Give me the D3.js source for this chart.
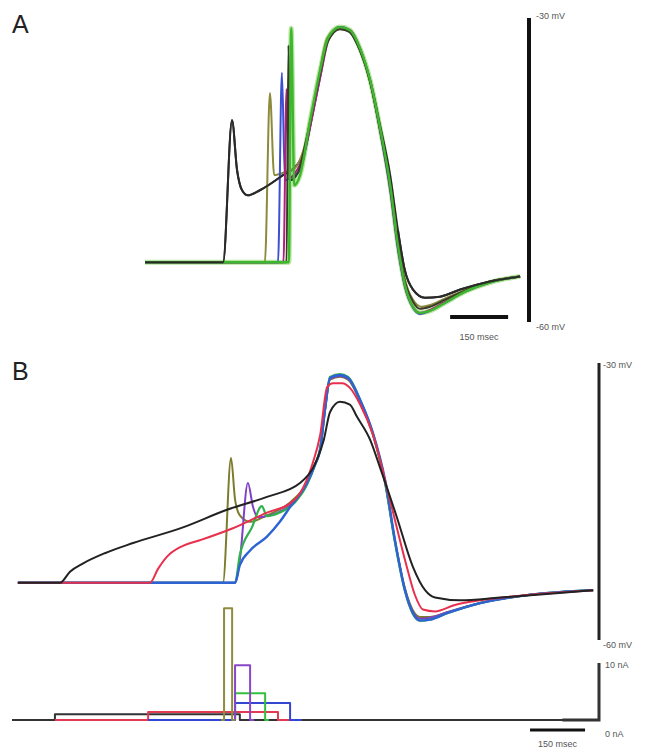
<!DOCTYPE html>
<html>
<head>
<meta charset="utf-8">
<script src="https://cdn.jsdelivr.net/npm/d3@7"></script>
<style>
  body { margin: 0; background: #fff; }
  text { font-family: "Liberation Sans", Arial, sans-serif; }
</style>
</head>
<body>
<script>
// Panel A voltage traces: [time ms, membrane potential mV]
var blackA = [[0,-54.1],[202,-54.1],[225,-40.1],[238,-45.0],[251,-47.0],[266,-47.5],[297,-47.0],[357,-45.5],[393,-44.5],[414,-43.0],[440,-38.1],[471,-32.2],[491,-31.2],[509,-31.0],[530,-31.4],[556,-33.2],[582,-36.1],[608,-40.6],[634,-45.5],[654,-50.9],[672,-54.9],[693,-56.8],[724,-57.6],[763,-57.5],[815,-56.8],[892,-56.0],[970,-55.5]];
var oliveA = [[0,-54.1],[310,-54.1],[323,-37.4],[334,-45.5],[362,-45.2],[388,-44.8],[410,-43.0],[440,-38.0],[471,-32.0],[505,-30.9],[530,-31.3],[556,-33.1],[582,-36.3],[608,-41.0],[634,-46.5],[654,-52.0],[672,-55.8],[693,-57.8],[716,-58.5],[740,-58.3],[780,-57.6],[830,-56.8],[892,-56.0],[970,-55.5]];
var blueA = [[0,-54.1],[344,-54.1],[354,-35.4],[362,-46.0],[375,-45.8],[401,-45.0],[427,-40.6],[453,-35.8],[473,-32.2],[504,-30.9],[530,-31.2],[556,-33.0],[582,-36.2],[608,-41.2],[634,-47.0],[654,-52.8],[672,-56.5],[693,-58.6],[711,-59.2],[737,-58.9],[776,-58.1],[828,-57.0],[892,-56.1],[970,-55.5]];
var magentaA = [[0,-54.1],[358,-54.1],[366,-37.0],[372,-45.8],[390,-45.2],[410,-43.5],[430,-40.2],[455,-35.5],[475,-32.1],[504,-31.0],[530,-31.2],[556,-33.0],[582,-36.2],[608,-41.1],[634,-46.8],[654,-52.6],[672,-56.4],[693,-58.5],[711,-59.1],[737,-58.8],[776,-58.0],[828,-57.0],[892,-56.1],[970,-55.5]];
var darkA = [[0,-54.1],[366,-54.1],[371,-32.7],[376,-46.0],[395,-45.3],[420,-41.5],[450,-36.0],[473,-32.3],[504,-31.1],[530,-31.4],[556,-33.2],[582,-36.3],[608,-41.0],[634,-46.6],[654,-52.3],[672,-56.0],[693,-58.0],[711,-58.7],[737,-58.5],[776,-57.8],[828,-56.9],[892,-56.0],[970,-55.5]];
var greenA = [[0,-54.1],[372,-54.1],[378,-31.0],[386,-46.5],[401,-45.5],[427,-40.1],[453,-35.1],[473,-32.0],[504,-30.9],[530,-31.2],[556,-33.0],[582,-36.1],[608,-40.9],[634,-46.5],[654,-52.4],[672,-56.3],[693,-58.5],[711,-59.1],[737,-58.9],[776,-58.1],[828,-57.0],[892,-56.1],[970,-55.5]];

// Panel B voltage traces: [time ms, mV]
var blackB = [[16,-53.8],[131,-53.8],[158,-52.6],[194,-51.7],[253,-50.6],[330,-49.5],[466,-47.8],[586,-45.9],[695,-44.5],[785,-43.0],[831,-40.5],[850,-38.3],[867,-35.3],[894,-34.2],[921,-34.5],[940,-35.8],[976,-38.3],[1003,-41.3],[1049,-46.7],[1093,-52.1],[1126,-54.6],[1153,-55.4],[1221,-55.7],[1330,-55.4],[1466,-55.0],[1584,-54.6]];
var redB = [[16,-53.8],[376,-53.8],[398,-52.3],[422,-51.0],[466,-49.8],[512,-49.2],[602,-47.9],[695,-46.2],[758,-45.2],[785,-44.1],[820,-40.8],[840,-37.8],[859,-32.6],[875,-32.2],[900,-32.2],[921,-32.7],[949,-34.5],[984,-37.8],[1030,-44.8],[1071,-51.3],[1098,-55.1],[1120,-56.7],[1153,-56.9],[1207,-56.2],[1276,-55.7],[1412,-55.1],[1584,-54.6]];
var blueB = [[16,-53.8],[608,-53.8],[621,-51.9],[649,-50.3],[695,-48.8],[730,-47.2],[758,-45.6],[804,-43.0],[826,-41.0],[840,-39.4],[853,-35.1],[867,-31.6],[894,-31.3],[916,-31.6],[949,-34.0],[984,-37.6],[1017,-42.7],[1044,-49.2],[1071,-54.6],[1093,-57.1],[1112,-57.9],[1139,-57.8],[1186,-57.1],[1276,-56.0],[1412,-55.1],[1584,-54.6]];
var greenB = [[16,-53.8],[608,-53.8],[621,-50.8],[654,-47.8],[681,-45.5],[695,-46.6],[730,-46.2],[771,-45.1],[804,-43.2],[826,-41.0],[840,-39.2],[853,-35.0],[867,-31.5],[894,-31.2],[916,-31.5],[949,-34.0],[984,-37.7],[1017,-43.0],[1044,-49.5],[1071,-54.7],[1093,-57.2],[1112,-57.9],[1139,-57.8],[1186,-57.1],[1276,-56.0],[1412,-55.1],[1584,-54.6]];
var purpleB = [[16,-53.8],[608,-53.8],[621,-51.3],[643,-43.0],[657,-45.6],[670,-46.7],[703,-46.5],[758,-45.4],[804,-43.1],[826,-41.0],[840,-39.3],[853,-35.1],[867,-31.7],[894,-31.4],[916,-31.7],[949,-34.1],[984,-37.7],[1017,-42.9],[1044,-49.3],[1071,-54.5],[1093,-57.0],[1112,-57.7],[1139,-57.6],[1186,-57.0],[1276,-56.0],[1412,-55.1],[1584,-54.6]];
var oliveB = [[16,-53.8],[575,-53.8],[597,-40.3],[608,-44.8],[621,-46.5],[649,-47.2],[695,-46.5],[758,-45.1],[804,-43.0],[826,-41.0],[840,-39.4],[853,-35.2],[867,-31.8],[894,-31.5],[916,-31.8],[949,-34.2],[984,-37.8],[1017,-43.0],[1044,-49.3],[1071,-54.4],[1093,-56.8],[1112,-57.5],[1139,-57.5],[1186,-57.0],[1276,-56.0],[1412,-55.1],[1584,-54.6]];

// Panel B injected current steps: [time ms, nA]
var currentBlack = [[0,0],[117,0],[117,1.0],[621,1.0],[621,0],[1600,0]];
var currentRed = [[117,0],[371,0],[371,1.4],[725,1.4],[725,0],[760,0]];
var currentBlue = [[371,0],[608,0],[608,3.0],[758,3.0],[758,0],[790,0]];
var currentGreen = [[600,0],[608,0],[608,4.7],[690,4.7],[690,0],[700,0]];
var currentPurple = [[600,0],[608,0],[608,9.6],[649,9.6],[649,0],[660,0]];
var currentOlive = [[570,0],[578,0],[578,19.6],[600,19.6],[600,0],[608,0]];

// Scale bar values and labels
var voltBar = [-30, -60];
var voltLabels = ["-30 mV", "-60 mV"];
var currBar = [10, 0];
var currLabels = ["10 nA", "0 nA"];
var timeBarA = [789, 939];
var timeBarB = [1412, 1562];
var timeLabel = "150 msec";

var svg = d3.select("body").append("svg")
  .attr("width", 656)
  .attr("height", 749);

// scales
var xA = d3.scaleLinear().domain([0, 1000]).range([145, 531.7]);
var yA = d3.scaleLinear().domain([-60, -30]).range([322, 18]);
var xB = d3.scaleLinear().domain([0, 1600]).range([12, 599]);
var yB = d3.scaleLinear().domain([-60, -30]).range([640, 363]);
var yI = d3.scaleLinear().domain([0, 10]).range([720, 663]);

var lineA = d3.line().x(d => xA(d[0])).y(d => yA(d[1])).curve(d3.curveMonotoneX);
var lineB = d3.line().x(d => xB(d[0])).y(d => yB(d[1])).curve(d3.curveMonotoneX);
var lineI = d3.line().x(d => xB(d[0])).y(d => yI(d[1]));

function trace(g, line, data, color, w) {
  g.append("path")
    .attr("d", line(data))
    .attr("fill", "none")
    .attr("stroke", color)
    .attr("stroke-width", w)
    .attr("stroke-linejoin", "round");
}

// panel labels
svg.append("text").attr("x", 12).attr("y", 33).attr("font-size", 25)
  .attr("fill", "#222").text("A");
svg.append("text").attr("x", 12).attr("y", 380).attr("font-size", 25)
  .attr("fill", "#222").text("B");

// ---- Panel A ----
var gA = svg.append("g");
trace(gA, lineA, greenA, "#b8e6a0", 5);
trace(gA, lineA, blackA, "#2a2a2a", 2);
trace(gA, lineA, oliveA, "#8c8a3c", 2);
trace(gA, lineA, blueA, "#3b4fd0", 2);
trace(gA, lineA, magentaA, "#b0207e", 2);
trace(gA, lineA, darkA, "#3a3a28", 2);
trace(gA, lineA, greenA, "#3db82e", 2.4);
// black drawn again over the slow part so it stays visible where it separates
trace(gA, lineA, blackA.slice(0, 8), "#2a2a2a", 2);
trace(gA, lineA, blackA.slice(19), "#2a2a2a", 2);

// voltage scale bar A
gA.append("line")
  .attr("x1", 529).attr("x2", 529)
  .attr("y1", yA(voltBar[0])).attr("y2", yA(voltBar[1]))
  .attr("stroke", "#111").attr("stroke-width", 4);
gA.selectAll(".vlab").data(voltBar).enter().append("text")
  .attr("x", 536)
  .attr("y", (d, i) => yA(d) + (i == 0 ? 1 : 8))
  .attr("font-size", 9).attr("fill", "#555")
  .text((d, i) => voltLabels[i]);

// time scale bar A
gA.append("line")
  .attr("x1", xA(timeBarA[0])).attr("x2", xA(timeBarA[1]))
  .attr("y1", 317).attr("y2", 317)
  .attr("stroke", "#111").attr("stroke-width", 4);
gA.append("text")
  .attr("x", (xA(timeBarA[0]) + xA(timeBarA[1])) / 2).attr("y", 340)
  .attr("text-anchor", "middle").attr("font-size", 9).attr("fill", "#555")
  .text(timeLabel);

// ---- Panel B ----
var gB = svg.append("g");
trace(gB, lineB, oliveB, "#7d7b2c", 2);
trace(gB, lineB, purpleB, "#7f3fc6", 2);
trace(gB, lineB, greenB, "#2fb24c", 2.2);
trace(gB, lineB, blueB, "#2e63d4", 2.4);
trace(gB, lineB, redB, "#e8304e", 2);
trace(gB, lineB, blackB, "#222", 2);

// voltage scale bar B
gB.append("line")
  .attr("x1", 599).attr("x2", 599)
  .attr("y1", yB(voltBar[0])).attr("y2", yB(voltBar[1]))
  .attr("stroke", "#222").attr("stroke-width", 3);
gB.selectAll(".vlab").data(voltBar).enter().append("text")
  .attr("x", 603)
  .attr("y", (d, i) => yB(d) + (i == 0 ? 5 : 8))
  .attr("font-size", 9).attr("fill", "#555")
  .text((d, i) => voltLabels[i]);

// current traces
trace(gB, lineI, currentBlack, "#333", 2);
trace(gB, lineI, currentRed, "#e23a52", 2);
trace(gB, lineI, currentBlue, "#3346d2", 2);
trace(gB, lineI, currentGreen, "#33c03c", 2);
trace(gB, lineI, currentPurple, "#8a46c8", 2);
trace(gB, lineI, currentOlive, "#8e8c3e", 2);

// current scale bar
gB.append("path")
  .attr("d", `M599,${yI(currBar[0])}V${yI(currBar[1])}H${xB(1500)}`)
  .attr("fill", "none").attr("stroke", "#333").attr("stroke-width", 3);
gB.selectAll(".clab").data(currBar).enter().append("text")
  .attr("x", 605)
  .attr("y", (d, i) => yI(d) + (i == 0 ? 5 : 17))
  .attr("font-size", 9).attr("fill", "#555")
  .text((d, i) => currLabels[i]);

// time scale bar B
gB.append("line")
  .attr("x1", xB(timeBarB[0])).attr("x2", xB(timeBarB[1]))
  .attr("y1", 730).attr("y2", 730)
  .attr("stroke", "#111").attr("stroke-width", 3);
gB.append("text")
  .attr("x", (xB(timeBarB[0]) + xB(timeBarB[1])) / 2).attr("y", 747)
  .attr("text-anchor", "middle").attr("font-size", 9).attr("fill", "#555")
  .text(timeLabel);
</script>
</body>
</html>
